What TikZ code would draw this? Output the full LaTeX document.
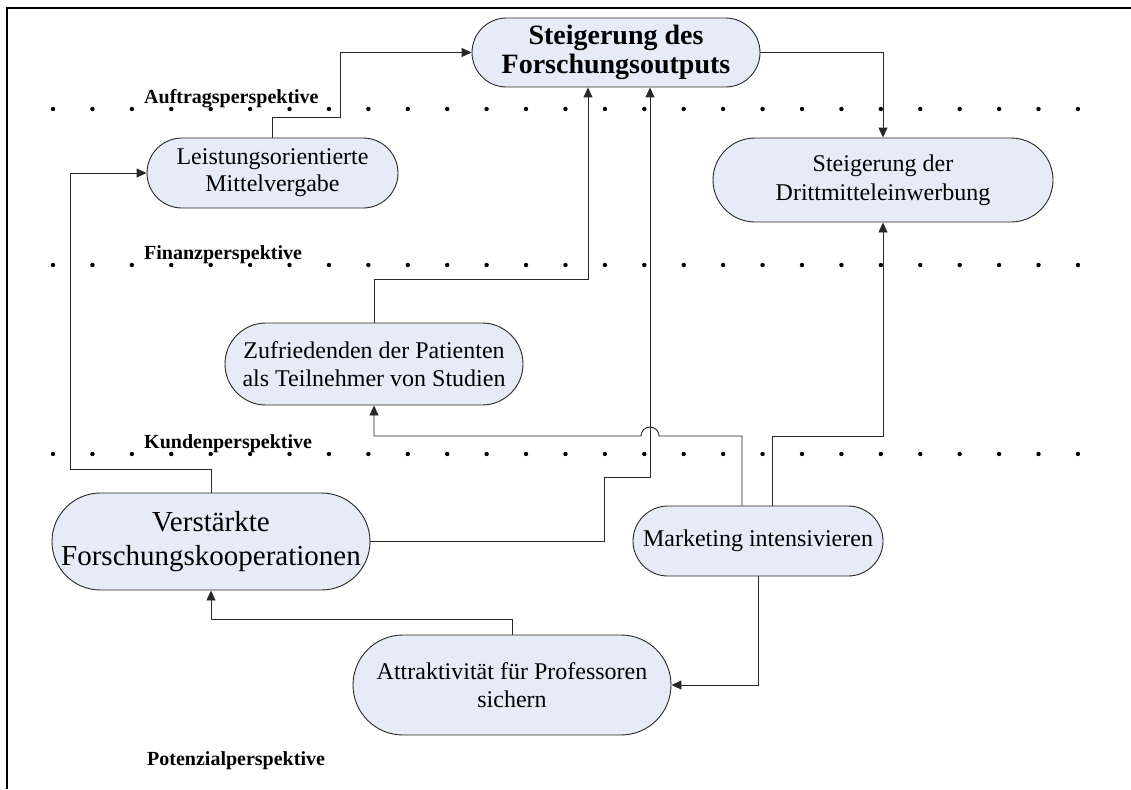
\documentclass[tikz,border=0pt]{standalone}
\usepackage{fontspec}
\setmainfont{Liberation Serif}
\usetikzlibrary{arrows.meta}
\definecolor{boxfill}{RGB}{230,236,247}
\definecolor{linegray}{RGB}{40,40,40}
\begin{document}
\begin{tikzpicture}[x=1pt,y=-1pt,
  box/.style={draw=linegray, fill=boxfill, line width=0.9pt, inner sep=0pt, align=center},
  conn/.style={draw=linegray, line width=0.9pt},
  arr/.style={conn, -{Triangle[length=10pt,width=9pt]}},
  dotrow/.style={fill=black},
  plabel/.style={anchor=base west, inner sep=0pt, font=\fontsize{20}{22}\selectfont\bfseries}
]
\useasboundingbox (0,0) rectangle (1131,789);
% outer frame (top and left edges)
\draw[line width=2pt] (7,789) -- (7,8) -- (1131,8);

% dotted perspective separators
\foreach \yy in {109,265,454}{
  \foreach \i in {0,...,26}{
    \fill[dotrow] ({53+\i*39.42},\yy) circle (2.2);
  }
}

% perspective labels
\node[plabel] (lab1) at (144,103) {Auftragsperspektive};
\node[plabel] (lab2) at (144,259) {Finanzperspektive};
\node[plabel] (lab3) at (144,448) {Kundenperspektive};
\node[plabel] (lab4) at (147,765) {Potenzialperspektive};

% objectives
\node[box, minimum width=288pt, minimum height=69pt, rounded corners=34.5pt,
      font=\fontsize{28}{29}\selectfont\bfseries] (n1) at (616,52.5)
      {Steigerung des\\Forschungsoutputs};
\node[box, minimum width=251pt, minimum height=70pt, rounded corners=35pt,
      font=\fontsize{24}{27}\selectfont] (n2) at (272.5,173)
      {Leistungsorientierte\\Mittelvergabe};
\node[box, minimum width=340pt, minimum height=84pt, rounded corners=42pt,
      font=\fontsize{24}{29}\selectfont] (n3) at (883,180)
      {Steigerung der\\Drittmitteleinwerbung};
\node[box, minimum width=298pt, minimum height=82pt, rounded corners=41pt,
      font=\fontsize{24}{28}\selectfont] (n4) at (374,364)
      {Zufriedenden der Patienten\\als Teilnehmer von Studien};
\node[box, minimum width=318pt, minimum height=97pt, rounded corners=48.5pt,
      font=\fontsize{29}{34}\selectfont] (n5) at (211,541.5)
      {Verst\"arkte\\Forschungskooperationen};
\node[box, minimum width=250pt, minimum height=70pt, rounded corners=35pt,
      font=\fontsize{24}{28}\selectfont] (n6) at (758,541)
      {Marketing intensivieren};
\node[box, minimum width=318pt, minimum height=100pt, rounded corners=50pt,
      font=\fontsize{24}{28}\selectfont] (n7) at (512,685)
      {Attraktivit\"at f\"ur Professoren\\sichern};

% connectors
\draw[arr] (n2.north) -- (272.5,117) -| (340,52.5) -- (n1.west);
\draw[arr] (n1.east) -| (n3.north);
\draw[arr] (n4.north) |- (588,279) -- ([xshift=-28pt]n1.south);
\draw[arr] (n5.east) -| (604,477) -| ([xshift=34pt]n1.south);
\draw[arr] ([xshift=-16pt]n6.north) |- (659,436)
   .. controls (659,431) and (655,427) .. (650,427)
   .. controls (645,427) and (641,431) .. (641,436)
   -| (n4.south);
\draw[arr] ([xshift=14pt]n6.north) |- (883,436) -- (n3.south);
\draw[arr] (n5.north) -- (211,469) -| (70,173) -- (n2.west);
\draw[arr] (n7.north) |- (211,619) -- (n5.south);
\draw[arr] (n6.south) |- (n7.east);
\end{tikzpicture}
\end{document}
